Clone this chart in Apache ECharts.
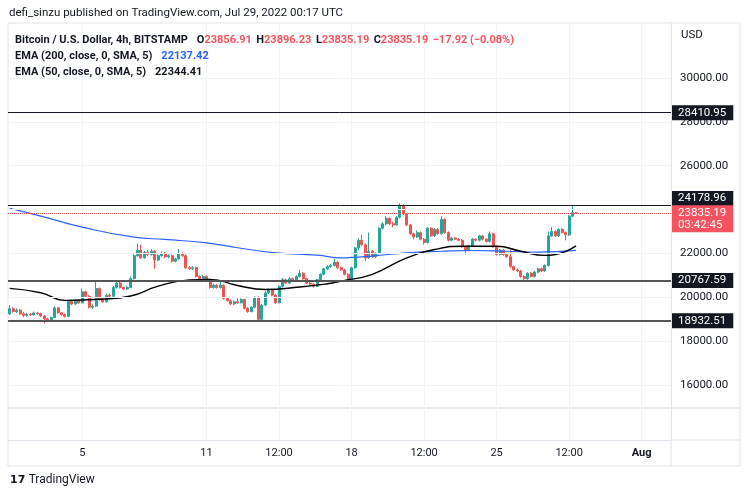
<!DOCTYPE html>
<html><head><meta charset="utf-8">
<script src="https://cdn.jsdelivr.net/npm/echarts@6/dist/echarts.min.js"></script>
<style>html,body{margin:0;padding:0;background:#fff}#c{width:749px;height:495px}</style>
</head><body><div id="c"></div>
<script>
// ---- data ----
const startTime = Date.UTC(2022, 6, 1, 12);   // first 4h candle
const categoryCount = 192;                    // candles + empty space to the right
// [open, close, low, high]
const candles = [
[19250,19480,19190,19640],[19480,19350,19300,19560],[19350,19420,19290,19500],[19420,19250,19200,19470],
[19250,19180,19090,19330],[19180,19230,19120,19300],[19230,19200,19150,19290],[19200,19290,19170,19350],
[19290,19260,19200,19340],[19260,19150,19110,19300],[19150,19020,18820,19190],[19020,18990,18950,19080],
[18990,19080,18960,19130],[19080,19520,19050,19600],[19520,19300,19260,19560],[19300,19220,19160,19340],
[19220,19130,19080,19260],[19130,19820,19100,19870],[19820,19700,19650,19890],[19700,19850,19660,19920],
[19850,19750,19700,19900],[19750,20250,19720,20400],[20250,20050,19980,20300],[20050,19550,19500,20100],
[19550,19600,19480,19680],[19600,20400,19560,20720],[20400,19900,19850,20450],[19900,19800,19750,19960],
[19800,20100,19760,20160],[20100,20050,19990,20180],[20050,20450,20020,20520],[20450,20650,20400,20760],
[20650,20450,20410,20700],[20450,20380,20330,20500],[20380,20450,20340,20520],[20450,20850,20420,20950],
[20850,21900,20820,21980],[21900,22150,21850,22450],[22150,21800,21750,22400],[21800,22050,21760,22120],
[22050,21950,21880,22150],[21950,22100,21900,22200],[22100,21700,21300,22150],[21700,21900,21650,21960],
[21900,22000,21850,22080],[22000,21850,21800,22060],[21850,21900,21780,21970],[21900,21650,21600,21950],
[21650,21750,21600,21800],[21750,22000,21700,22200],[22000,21900,21850,22080],[21900,21350,21300,21950],
[21350,21300,21250,21420],[21300,21350,21240,21420],[21350,20950,20900,21400],[20950,20850,20800,21000],
[20850,20950,20800,21020],[20950,20800,20750,21000],[20800,20450,20400,20850],[20450,20550,20400,20620],
[20550,20450,20400,20600],[20450,20550,20400,20750],[20550,19950,19900,20600],[19950,19850,19800,20000],
[19850,19700,19650,19900],[19700,19800,19650,19860],[19800,19750,19700,19950],[19750,19900,19720,19960],
[19900,19500,19450,19940],[19500,19350,19300,19550],[19350,19550,19320,19600],[19550,20000,19500,20050],
[20000,19000,18910,20050],[19000,19650,18950,19700],[19650,20200,19600,20280],[20200,20350,20150,20420],
[20350,20100,20050,20400],[20100,19750,19700,20150],[19750,20500,19720,20550],[20500,20800,20450,20880],
[20800,20650,20600,20850],[20650,20850,20620,20920],[20850,20750,20700,20900],[20750,20950,20700,21000],
[20950,21100,20900,21250],[21100,20850,20800,21150],[20850,20650,20600,20900],[20650,20600,20550,20700],
[20600,20500,20450,20650],[20500,20800,20470,20850],[20800,21050,20780,21100],[21050,21300,21000,21350],
[21300,21400,21250,21460],[21400,21450,21350,21520],[21450,21600,21400,21750],[21600,21350,21300,21650],
[21350,21250,21200,21400],[21250,21050,21000,21300],[21050,20800,20750,21100],[20800,21350,20780,21400],
[21350,22250,21300,22300],[22250,22600,22150,22700],[22600,22400,22350,22850],[22400,21800,21650,22450],
[21800,22100,21750,22950],[22100,21850,21800,22150],[21850,22000,21800,22050],[22000,23150,21950,23200],
[23150,23350,23100,23420],[23350,23600,23300,23700],[23600,23350,23300,23650],[23350,23300,23200,23450],
[23300,23650,23250,23700],[23650,24150,23600,24280],[24150,23800,23750,24250],[23800,23300,23250,23850],
[23300,22900,22850,23350],[22900,22750,22650,22950],[22750,22950,22700,23050],[22950,22650,22600,23000],
[22650,22500,22400,22700],[22500,23150,22450,23200],[23150,22800,22750,23200],[22800,23100,22750,23150],
[23100,22900,22850,23150],[22900,23550,22850,23700],[23550,22950,22900,23600],[22950,22600,22550,23000],
[22600,22700,22550,22750],[22700,22650,22600,22750],[22650,22600,22550,22700],[22600,22300,22250,22650],
[22300,22150,21950,22350],[22150,22350,22100,22400],[22350,22650,22300,22700],[22650,22600,22550,22700],
[22600,22800,22550,22850],[22800,22650,22600,22850],[22650,22550,22500,22700],[22550,22900,22500,23000],
[22900,22300,22250,22950],[22300,21950,21900,22350],[21950,22150,21900,22200],[22150,21950,21900,22200],
[21950,21850,21800,22000],[21850,21400,21350,22200],[21400,21250,21200,21450],[21250,21200,21150,21300],
[21200,20950,20900,21250],[20950,20850,20720,21000],[20850,21100,20800,21150],[21100,20950,20900,21150],
[20950,21150,20900,21200],[21150,21300,21100,21350],[21300,21200,21150,21350],[21200,21450,21150,21500],
[21450,22800,21400,23000],[22800,23000,22750,23200],[23000,22800,22750,23050],[22800,23100,22750,23150],
[23100,22950,22900,23150],[22950,22850,22600,23000],[22850,23700,22800,23750],[23700,23857,23650,24230],
[23856.91,23835.19,23835.19,23896.23]
];
// [candle index, value]
const ema200 = [[0,24050],[9,23700],[21,23200],[36,22740],[45,22640],[57,22480],[66,22260],[77,22030],
  [89,21920],[96,21800],[99,21820],[105,21880],[115,22030],[125,22100],[134,22135],[144,22100],[153,22060],[164,22137.42]];
const ema50 = [[0,20410],[9,20210],[16,19860],[26,19910],[35,20060],[43,20510],[52,20790],[58,20820],
  [66,20540],[74,20360],[84,20470],[92,20620],[96,20740],[105,21050],[115,21800],[124,22210],[131,22330],
  [141,22330],[148,22100],[155,21910],[158,21950],[164,22344.41]];
const levels = [28410.95, 24178.96, 20767.59, 18932.51];
const lastPrice = 23835.19;
const countdown = '03:42:45';
const yTickLabels = [16000, 18000, 20000, 22000, 26000, 28000, 30000];
const yGridLevels = [16000, 18000, 20000, 22000, 24000, 26000, 28000, 30000];
const xTickCats = ['07-05 00:00','07-11 00:00','07-14 12:00','07-18 00:00','07-21 12:00','07-25 00:00','07-28 12:00','08-01 00:00'];
const xTickLabels = ['5','11','12:00','18','12:00','25','12:00','Aug'];

// ---- build ----
function fmt(d){const p=n=>String(n).padStart(2,'0');return p(d.getUTCMonth()+1)+'-'+p(d.getUTCDate())+' '+p(d.getUTCHours())+':00';}
const categories = [];
for (let k = 0; k < categoryCount; k++) categories.push(fmt(new Date(startTime + k * 4 * 3600e3)));
const tickMap = {}; xTickCats.forEach((c, i) => tickMap[c] = xTickLabels[i]);
const isTick = (idx, val) => tickMap[val] !== undefined;

const fam = 'Roboto, "Noto Sans", sans-serif';
const txt = '#131722';
const up = '#26a69a', down = '#ef5350', red = '#f7525f';

const boxLabel = (bg, off) => ({show:true, position:'end', distance:1, color:'#fff', backgroundColor:bg,
  fontFamily:fam, fontSize:11.5, lineHeight:12, padding:[2,7,1,6], offset:[0, off],
  formatter: p => p.value.toFixed(2)});

const chart = echarts.init(document.getElementById('c'));
chart.setOption({
  animation:false,
  backgroundColor:'#fff',
  textStyle:{fontFamily:fam},
  title:[
    {text:'defi_sinzu published on TradingView.com, Jul 29, 2022 00:17 UTC', left:9, top:7, padding:0,
     textStyle:{fontSize:11.5, fontWeight:'normal', color:txt, fontFamily:fam}},
    {text:'{n|Bitcoin / U.S. Dollar, 4h, BITSTAMP}  {n|O}{r|23856.91} {n|H}{r|23896.23} {n|L}{r|23835.19} {n|C}{r|23835.19} {r|\u221217.92 (\u22120.08%)}',
     left:15, top:31, padding:0,
     textStyle:{rich:{n:{fontSize:11,color:txt,fontFamily:fam}, r:{fontSize:11,color:red,fontFamily:fam}}}},
    {text:'{n|EMA (200, close, 0, SMA, 5)}  {b|22137.42}', left:15, top:47, padding:0,
     textStyle:{rich:{n:{fontSize:11,color:txt,fontFamily:fam}, b:{fontSize:11,color:'#2962ff',fontFamily:fam}}}},
    {text:'{n|EMA (50, close, 0, SMA, 5)}  {n|22344.41}', left:15, top:63, padding:0,
     textStyle:{rich:{n:{fontSize:11,color:txt,fontFamily:fam}}}}
  ],
  grid:{left:8, right:78, top:23, bottom:55, containLabel:false},
  xAxis:{type:'category', data:categories, boundaryGap:true,
    axisLine:{lineStyle:{color:'#e0e3eb'}}, axisTick:{show:false},
    axisLabel:{interval:isTick, margin:8, color:txt, fontSize:11, fontFamily:fam,
      formatter: v => tickMap[v] === 'Aug' ? '{b|Aug}' : (tickMap[v] || ''),
      rich:{b:{fontWeight:'bold', fontSize:11, color:txt, fontFamily:fam}}},
    splitLine:{show:true, interval:isTick, alignWithLabel:true, lineStyle:{color:'#f0f3fa'}}},
  yAxis:{type:'value', position:'right', min:13500, max:32500, splitNumber:10,
    axisLine:{show:true, lineStyle:{color:'#e0e3eb'}}, axisTick:{show:false}, splitLine:{show:false},
    axisLabel:{margin:9, color:txt, fontSize:11.5, fontFamily:fam, showMinLabel:false, showMaxLabel:false,
      formatter: v => yTickLabels.includes(v) ? v.toFixed(2) : ''}},
  series:[
    {type:'line', name:'grid', data:[], z:0, silent:true,
     markLine:{silent:true, symbol:'none', label:{show:false}, animation:false,
       lineStyle:{color:'#f0f3fa', type:'solid', width:1},
       data: yGridLevels.map(v => ({yAxis:v}))}},
    {type:'candlestick', name:'BTCUSD', data:candles, barWidth:2.5, z:2,
     itemStyle:{color:up, color0:down, borderColor:up, borderColor0:down, borderWidth:1},
     markLine:{silent:true, symbol:'none', animation:false,
       data:[
         {yAxis:levels[0], lineStyle:{color:'#131722', width:1, type:'solid'}, label:boxLabel('#131722',0)},
         {yAxis:levels[1], lineStyle:{color:'#131722', width:1, type:'solid'}, label:boxLabel('#131722',-7)},
         {yAxis:levels[2], lineStyle:{color:'#555', width:2, type:'solid'}, label:boxLabel('#131722',0)},
         {yAxis:levels[3], lineStyle:{color:'#555', width:2, type:'solid'}, label:boxLabel('#131722',0)},
         {yAxis:lastPrice, lineStyle:{color:red, width:1, type:'dotted'},
          label:Object.assign(boxLabel(red, 5.5), {formatter: () => lastPrice.toFixed(2) + '\n' + countdown})}
       ]}},
    {type:'line', name:'EMA200', data:ema200, smooth:0.5, showSymbol:false, z:3,
     lineStyle:{color:'#2962ff', width:1.2}},
    {type:'line', name:'EMA50', data:ema50, smooth:0.5, showSymbol:false, z:3,
     lineStyle:{color:'#000000', width:1.4}}
  ],
  graphic:[
    {type:'text', left:681, top:29, style:{text:'USD', fill:txt, font:'11.5px '+fam}},
    {type:'line', shape:{x1:8,y1:23,x2:740,y2:23}, style:{stroke:'#e0e3eb', lineWidth:1}},
    {type:'line', shape:{x1:740,y1:23,x2:740,y2:466}, style:{stroke:'#e0e3eb', lineWidth:1}},
    {type:'line', shape:{x1:8,y1:23,x2:8,y2:466}, style:{stroke:'#e0e3eb', lineWidth:1}},
    {type:'line', shape:{x1:671,y1:440,x2:671,y2:466}, style:{stroke:'#e0e3eb', lineWidth:1}},
    {type:'line', shape:{x1:8,y1:408,x2:740,y2:408}, style:{stroke:'#e0e3eb', lineWidth:1.5}},
    {type:'line', shape:{x1:671,y1:440,x2:740,y2:440}, style:{stroke:'#e0e3eb', lineWidth:1}},
    {type:'line', shape:{x1:8,y1:466,x2:740,y2:466}, style:{stroke:'#e0e3eb', lineWidth:1}},
    {type:'text', left:10, top:474, style:{text:'{l|17} {t|TradingView}',
      rich:{l:{fontSize:11, fontWeight:900, fill:txt, fontFamily:'"DejaVu Sans", sans-serif'},
            t:{fontSize:12, fill:txt, fontFamily:fam}}}}
  ]
});
</script></body></html>
